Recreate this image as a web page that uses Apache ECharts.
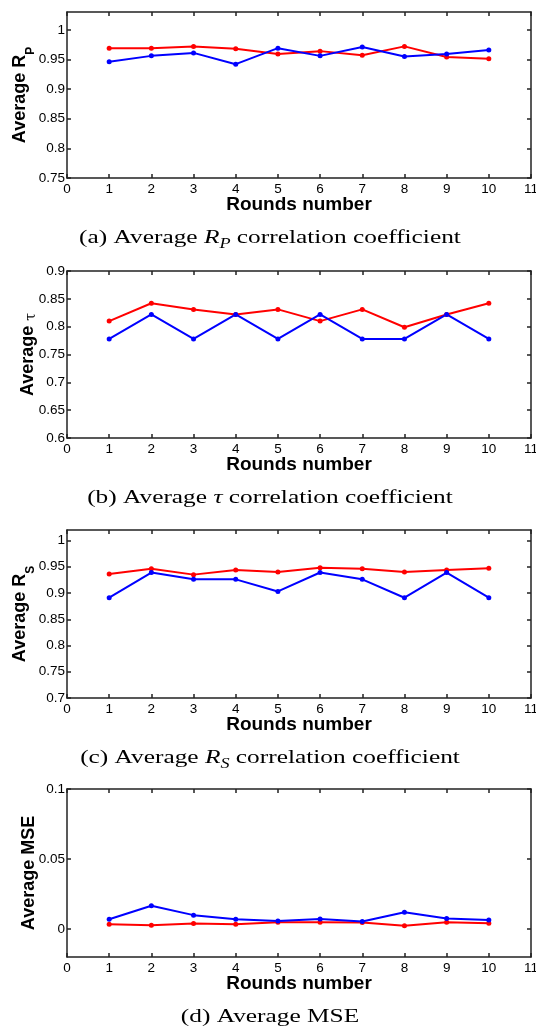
<!DOCTYPE html>
<html>
<head>
<meta charset="utf-8">
<script src="https://cdn.jsdelivr.net/npm/echarts@6/dist/echarts.min.js"></script>
<style>
  html, body { margin: 0; padding: 0; background: #fff; }
  #chart { width: 536px; height: 1028px; }
</style>
</head>
<body>
<div id="chart"></div>
<script>
// x positions (rounds) and x tick values
const rounds = [1, 2, 3, 4, 5, 6, 7, 8, 9, 10];
const xTicks = [0, 1, 2, 3, 4, 5, 6, 7, 8, 9, 10, 11];

// (a) Average R_P
const rpRed = [0.969, 0.969, 0.972, 0.968, 0.959, 0.964, 0.957, 0.972, 0.954, 0.951];
const rpBlue = [0.946, 0.956, 0.961, 0.942, 0.969, 0.956, 0.971, 0.955, 0.959, 0.966];
const rpTicks = [0.75, 0.8, 0.85, 0.9, 0.95, 1];

// (b) Average tau
const tauRed = [0.810, 0.842, 0.831, 0.822, 0.831, 0.810, 0.831, 0.799, 0.822, 0.842];
const tauBlue = [0.778, 0.822, 0.778, 0.822, 0.778, 0.822, 0.778, 0.778, 0.822, 0.778];
const tauTicks = [0.6, 0.65, 0.7, 0.75, 0.8, 0.85, 0.9];

// (c) Average R_S
const rsRed = [0.936, 0.946, 0.935, 0.944, 0.940, 0.948, 0.946, 0.940, 0.944, 0.947];
const rsBlue = [0.891, 0.939, 0.926, 0.926, 0.903, 0.939, 0.926, 0.891, 0.939, 0.891];
const rsTicks = [0.7, 0.75, 0.8, 0.85, 0.9, 0.95, 1];

// (d) Average MSE
const mseRed = [0.0034, 0.0027, 0.0039, 0.0034, 0.0048, 0.0048, 0.0046, 0.0024, 0.0048, 0.0041];
const mseBlue = [0.0070, 0.0166, 0.0099, 0.0070, 0.0058, 0.0072, 0.0053, 0.0120, 0.0075, 0.0065];
const mseTicks = [0, 0.05, 0.1];

const chart = echarts.init(document.getElementById("chart"));

const axisColor = "#222";
const sans = "Liberation Sans, Arial, sans-serif";
const serif = "Liberation Serif, Times New Roman, serif";

// one entry per subplot
const panels = [
  { red: rpRed, blue: rpBlue, ticks: rpTicks, min: 0.75, max: 1.03, top: 12, height: 166,
    yName: "{b|Average R}{s|P}", gap: 30,
    caption: "(a) Average {i|R}{si|P} correlation coefficient" },
  { red: tauRed, blue: tauBlue, ticks: tauTicks, min: 0.6, max: 0.9, top: 271, height: 167,
    yName: "{c|Average }{t|τ}", gap: 29,
    caption: "(b) Average {i|τ} correlation coefficient" },
  { red: rsRed, blue: rsBlue, ticks: rsTicks, min: 0.7, max: 1.02, top: 530, height: 168,
    yName: "{b|Average R}{s|S}", gap: 30,
    caption: "(c) Average {i|R}{si|S} correlation coefficient" },
  { red: mseRed, blue: mseBlue, ticks: mseTicks, min: -0.02, max: 0.1, top: 789, height: 168,
    yName: "{c|Average MSE}", gap: 28,
    caption: "(d) Average MSE" },
];

const grid = [];
const xAxis = [];
const yAxis = [];
const series = [];
const graphic = [];

const lineStyle = { color: axisColor, width: 1.5 };

panels.forEach((p, i) => {
  grid.push({ left: 67, right: 5, top: p.top, height: p.height, containLabel: false, outerBoundsMode: "none" });

  // bottom x axis with labels
  xAxis.push({
    gridIndex: i, type: "value", min: 0, max: 11, interval: 1, position: "bottom",
    axisLine: { show: true, onZero: false, lineStyle },
    axisTick: { show: true, inside: true, length: 4, lineStyle },
    axisLabel: { show: true, margin: 4, fontSize: 13.5, color: "#000", fontFamily: sans,
      showMinLabel: true, showMaxLabel: true },
    splitLine: { show: false },
    name: "Rounds number", nameLocation: "middle", nameGap: 17, nameMoveOverlap: false,
    nameTextStyle: { fontSize: 19, fontWeight: "bold", color: "#000", fontFamily: sans },
  });
  // top x axis (box edge)
  xAxis.push({
    gridIndex: i, type: "value", min: 0, max: 11, interval: 1, position: "top",
    axisLine: { show: true, onZero: false, lineStyle },
    axisTick: { show: true, inside: true, length: 4, lineStyle },
    axisLabel: { show: false },
    splitLine: { show: false },
  });

  // left y axis with labels
  yAxis.push({
    gridIndex: i, type: "value", min: p.min, max: p.max, position: "left",
    axisLine: { show: true, onZero: false, lineStyle },
    axisTick: { show: true, inside: true, length: 4, lineStyle, customValues: p.ticks },
    axisLabel: { show: true, margin: 2, fontSize: 13.5, color: "#000", fontFamily: sans, customValues: p.ticks },
    splitLine: { show: false },
    name: p.yName, nameLocation: "middle", nameRotate: 90, nameGap: p.gap, nameMoveOverlap: false,
    nameTextStyle: {
      color: "#000", fontFamily: sans,
      rich: {
        b: { fontSize: 18, fontWeight: "bold", fontFamily: sans, color: "#000", lineHeight: 33 },
        s: { fontSize: 12, fontWeight: "bold", fontFamily: sans, color: "#000", lineHeight: 12, verticalAlign: "bottom" },
        c: { fontSize: 18, fontWeight: "bold", fontFamily: sans, color: "#000", lineHeight: 20 },
        t: { fontSize: 14, fontFamily: "DejaVu Serif, serif", color: "#000", lineHeight: 14, verticalAlign: "bottom" },
      },
    },
  });
  // right y axis (box edge)
  yAxis.push({
    gridIndex: i, type: "value", min: p.min, max: p.max, position: "right",
    axisLine: { show: true, onZero: false, lineStyle },
    axisTick: { show: true, inside: true, length: 4, lineStyle, customValues: p.ticks },
    axisLabel: { show: false },
    splitLine: { show: false },
  });

  const mk = (arr, color) => ({
    type: "line",
    xAxisIndex: i * 2,
    yAxisIndex: i * 2,
    data: rounds.map((r, k) => [r, arr[k]]),
    symbol: "circle",
    symbolSize: 5,
    showSymbol: true,
    itemStyle: { color },
    lineStyle: { color, width: 2 },
    emphasis: { disabled: true },
  });
  series.push(mk(p.red, "#ff0000"));
  series.push(mk(p.blue, "#0000ff"));

  // caption below each subplot (LaTeX-like, wide serif)
  graphic.push({
    type: "text",
    x: 270,
    y: p.top + p.height + 60,
    scaleX: 1.3,
    style: {
      text: p.caption,
      fill: "#000",
      fontFamily: serif,
      fontSize: 19.5,
      lineHeight: 26,
      align: "center",
      verticalAlign: "middle",
      rich: {
        i: { fontStyle: "italic", fontFamily: serif, fontSize: 19.5, lineHeight: 26, fill: "#000" },
        si: { fontStyle: "italic", fontFamily: serif, fontSize: 14, lineHeight: 14, verticalAlign: "bottom", fill: "#000" },
      },
    },
  });
});

const option = {
  backgroundColor: "#fff",
  animation: false,
  grid,
  xAxis,
  yAxis,
  series,
  graphic,
};

option && chart.setOption(option);
</script>
</body>
</html>
